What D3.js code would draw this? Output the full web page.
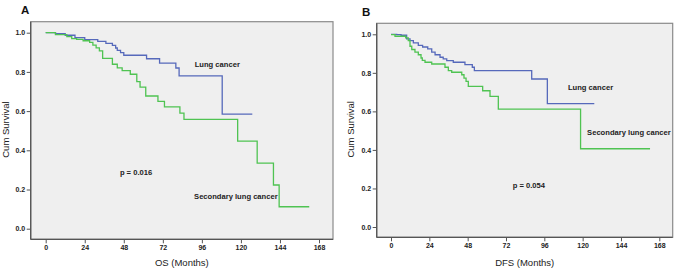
<!DOCTYPE html>
<html>
<head>
<meta charset="utf-8">
<script src="https://cdn.jsdelivr.net/npm/d3@7.9.0/dist/d3.min.js"></script>
<style>
  body { margin: 0; background: #fff; }
  svg { display: block; font-family: Arial, "Liberation Sans", sans-serif; }
  .tick text { font-size: 7px; font-weight: bold; fill: #222; }
  .note { font-size: 7.6px; font-weight: bold; fill: #222; }
</style>
</head>
<body>
<svg id="chart" width="676" height="270"></svg>
<script>
// ---- data ----
const xTicks = [0, 24, 48, 72, 96, 120, 144, 168];
const yTicks = [0.0, 0.2, 0.4, 0.6, 0.8, 1.0];

// Panel A: overall survival
const osLungMonths = [0, 6, 12, 18, 24, 32, 37, 41, 43, 44, 46, 48, 62, 70, 80, 82, 108.5, 127];
const osLungSurv   = [1.0, 0.995, 0.987, 0.975, 0.965, 0.956, 0.946, 0.935, 0.922, 0.91, 0.898, 0.885, 0.867, 0.845, 0.82, 0.78, 0.585, 0.585];
const osSecMonths  = [0, 6, 13, 16, 19, 23, 27, 29, 31, 33, 35, 41, 44, 47, 52, 56, 58, 61.5, 69, 73, 82.5, 85, 118, 130, 140, 143.5, 162];
const osSecSurv    = [1.0, 0.99, 0.98, 0.97, 0.966, 0.959, 0.951, 0.937, 0.923, 0.907, 0.869, 0.839, 0.821, 0.806, 0.788, 0.75, 0.722, 0.677, 0.65, 0.622, 0.59, 0.558, 0.447, 0.335, 0.223, 0.112, 0.112];

// Panel B: disease-free survival
const dfsLungMonths = [0, 3.6, 6.3, 9.8, 11.9, 14, 17.1, 19.8, 23, 25.5, 27.6, 30.7, 32.7, 34.9, 39, 46.3, 50.9, 52.2, 88.1, 97.9, 127.3];
const dfsLungSurv   = [1.0, 0.998, 0.995, 0.976, 0.967, 0.955, 0.943, 0.934, 0.924, 0.908, 0.894, 0.881, 0.872, 0.863, 0.855, 0.843, 0.829, 0.811, 0.768, 0.64, 0.64];
const dfsSecMonths  = [0, 2.5, 9.2, 10.8, 11.9, 13, 15, 17.1, 18.8, 19.6, 21.3, 25.5, 33.8, 35.9, 38, 44.3, 45.7, 47, 48.4, 57.4, 62, 67.2, 118.7, 162.2];
const dfsSecSurv    = [0.998, 0.99, 0.981, 0.967, 0.938, 0.921, 0.908, 0.894, 0.877, 0.865, 0.855, 0.846, 0.829, 0.811, 0.803, 0.79, 0.773, 0.756, 0.73, 0.707, 0.678, 0.612, 0.406, 0.406];

const blue = "#5669bb";
const green = "#4fc352";

const svg = d3.select("#chart");

function drawPanel(p) {
  const g = svg.append("g");
  const x = d3.scaleLinear().domain([0, 168]).range(p.xRange);
  const y = d3.scaleLinear().domain([0, 1]).range(p.yRange);

  // plot box
  g.append("rect")
    .attr("x", p.box[0]).attr("y", p.box[1])
    .attr("width", p.box[2] - p.box[0]).attr("height", p.box[3] - p.box[1])
    .attr("fill", "#efefef").attr("stroke", "#8a8a8a").attr("stroke-width", 1.2);

  // axes
  const yAxis = g.append("g")
    .attr("transform", `translate(${p.box[0]},0)`)
    .call(d3.axisLeft(y).tickValues(yTicks).tickFormat(d3.format(".1f")).tickSize(4).tickPadding(1.5));
  const xAxis = g.append("g")
    .attr("transform", `translate(0,${p.box[3]})`)
    .call(d3.axisBottom(x).tickValues(xTicks).tickSize(4).tickPadding(2));
  [yAxis, xAxis].forEach(a => {
    a.select(".domain").remove();
    a.selectAll(".tick line").attr("stroke", "#555");
  });
  g.append("line")
    .attr("x1", p.box[0]).attr("x2", p.box[0]).attr("y1", p.box[1]).attr("y2", p.box[3])
    .attr("stroke", "#555").attr("stroke-width", 1.3);
  g.append("line")
    .attr("x1", p.box[0]).attr("x2", p.box[2]).attr("y1", p.box[3]).attr("y2", p.box[3])
    .attr("stroke", "#555").attr("stroke-width", 1.3);

  // curves
  const line = d3.line().x(d => x(d[0])).y(d => y(d[1])).curve(d3.curveStepAfter);
  p.series.forEach(s => {
    g.append("path")
      .datum(d3.zip(s.months, s.surv))
      .attr("fill", "none")
      .attr("stroke", s.color)
      .attr("stroke-width", 1.3)
      .attr("d", line);
  });

  // notes
  p.notes.forEach(n => {
    g.append("text").attr("class", "note")
      .attr("x", x(n.m)).attr("y", y(n.s))
      .text(n.text);
  });

  // panel letter
  g.append("text")
    .attr("x", p.letterPos[0]).attr("y", p.letterPos[1])
    .attr("font-size", 11.5).attr("font-weight", "bold").attr("fill", "#111")
    .text(p.letter);

  // axis titles
  g.append("text")
    .attr("x", (p.box[0] + p.box[2]) / 2).attr("y", 266)
    .attr("text-anchor", "middle").attr("font-size", 9.5).attr("fill", "#222")
    .text(p.xTitle);
  g.append("text")
    .attr("transform", `translate(${p.yTitleX},${(p.box[1] + p.box[3]) / 2 - 1}) rotate(-90)`)
    .attr("text-anchor", "middle").attr("font-size", 9.5).attr("fill", "#222")
    .text("Cum Survival");
}

drawPanel({
  letter: "A", letterPos: [21, 14],
  box: [30.7, 21.7, 333, 239.3],
  xRange: [45.7, 319], yRange: [228.7, 32.7],
  xTitle: "OS (Months)", yTitleX: 9,
  series: [
    { months: osLungMonths, surv: osLungSurv, color: blue },
    { months: osSecMonths, surv: osSecSurv, color: green }
  ],
  notes: [
    { text: "Lung cancer", m: 91.6, s: 0.825 },
    { text: "p = 0.016", m: 45.6, s: 0.275 },
    { text: "Secondary lung cancer", m: 91.2, s: 0.152 }
  ]
});

drawPanel({
  letter: "B", letterPos: [362, 16],
  box: [376.7, 23.3, 672.7, 237.3],
  xRange: [391, 659.3], yRange: [227, 34.3],
  xTitle: "DFS (Months)", yTitleX: 354,
  series: [
    { months: dfsLungMonths, surv: dfsLungSurv, color: blue },
    { months: dfsSecMonths, surv: dfsSecSurv, color: green }
  ],
  notes: [
    { text: "Lung cancer", m: 110.8, s: 0.71 },
    { text: "p = 0.054", m: 76.2, s: 0.2 },
    { text: "Secondary lung cancer", m: 122.8, s: 0.48 }
  ]
});
</script>
</body>
</html>
